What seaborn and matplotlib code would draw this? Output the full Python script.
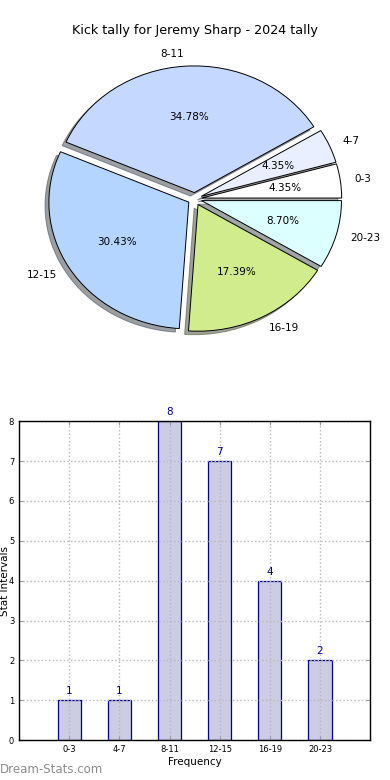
import matplotlib
matplotlib.use("Agg")
import matplotlib.pyplot as plt
import seaborn as sns
import pandas as pd

categories = ["0-3", "4-7", "8-11", "12-15", "16-19", "20-23"]
counts = [1, 1, 8, 7, 4, 2]
pie_colors = ["#ffffff", "#e9efff", "#c5d8ff", "#b4d5ff", "#d0ec8c", "#dcffff"]
title = "Kick tally for Jeremy Sharp - 2024 tally"

plt.rcParams['font.family'] = ['DejaVu Sans']

fig = plt.figure(figsize=(3.9, 7.8), dpi=100)

# Pie chart
ax1 = fig.add_axes([0.051, 0.542, 0.897, 0.406])
wedges, texts, autotexts = ax1.pie(
    counts, labels=categories, colors=pie_colors, explode=[0.05] * len(counts),
    autopct="%.2f%%", startangle=0, shadow=True, pctdistance=0.6, labeldistance=1.1,
    wedgeprops=dict(edgecolor="black", linewidth=0.7),
    textprops=dict(fontsize=7.5))
ax1.set_aspect('auto')
ax1.set_xlim(-1.25, 1.25)
ax1.set_ylim(-1.25, 1.25)
fig.text(0.5, 0.961, title, ha="center", va="center", fontsize=9.2)

# Bar chart
ax2 = fig.add_axes([0.049, 0.051, 0.9, 0.409])
df = pd.DataFrame({"cat": categories, "count": counts})
sns.barplot(data=df, x="cat", y="count", ax=ax2, color="#ccccE4", saturation=1,
            edgecolor="#00008b", linewidth=0.9, width=0.46, zorder=1)
ax2.set_xlim(-1, 6)
ax2.set_ylim(0, 8)
ax2.set_yticks(range(0, 9))
ax2.grid(True, linestyle=":", color="#b8b8b8", linewidth=1, zorder=3)
ax2.set_axisbelow(False)
ax2.tick_params(axis="both", labelsize=6, direction="in", length=3, color="#999999",
                top=True, right=True)
for i, v in enumerate(counts):
    ax2.text(i, v + 0.1, str(v), ha="center", va="bottom", color="#00008b", fontsize=7.5)
ax2.set_xlabel("Frequency", fontsize=7.5, labelpad=2)
ax2.set_ylabel("Stat Intervals", fontsize=7.5)
ax2.yaxis.set_label_coords(-0.026, 0.5)
for s in ax2.spines.values():
    s.set_linewidth(1)
    s.set_zorder(5)

fig.text(0.0, 0.013, "Dream-Stats.com", color="#8c8c8c", fontsize=8.5,
         ha="left", va="center")

fig.savefig("out.png", dpi=100)
